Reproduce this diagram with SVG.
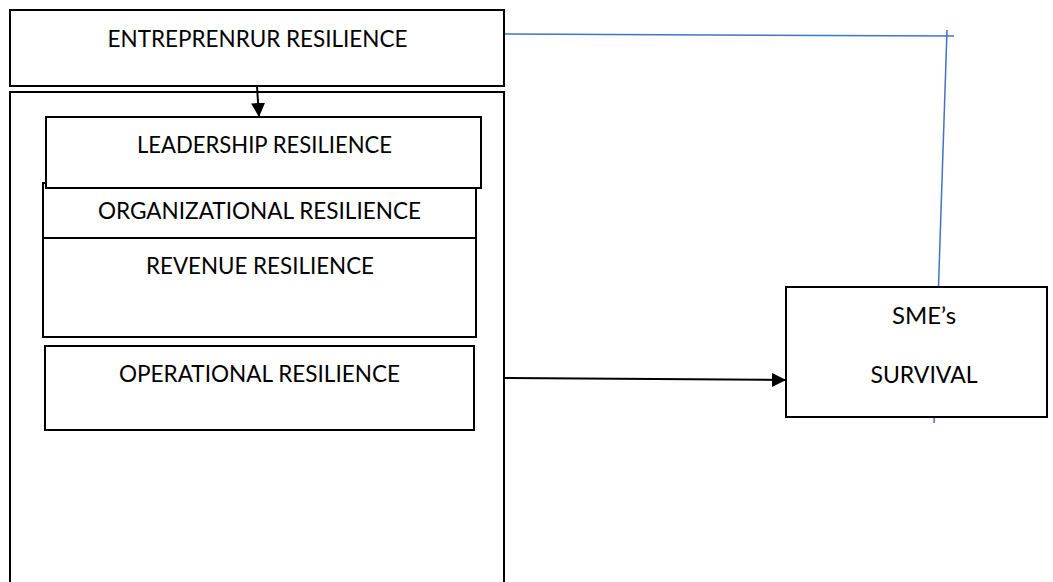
<svg xmlns="http://www.w3.org/2000/svg" width="1053" height="582" viewBox="0 0 1053 582">
<defs>
<style>
.box{fill:#fff;stroke:#000;stroke-width:2}
.frame{fill:none;stroke:#000;stroke-width:2}
.lbl{font-family:Lato,"Liberation Sans",sans-serif;font-size:24px;fill:#000;text-anchor:middle}
.blk{stroke:#000;stroke-width:2;fill:none}
.blue{stroke:#4472C4;stroke-width:1.5;fill:none}
</style>
<marker id="ah" viewBox="0 0 10 10" refX="10" refY="5" markerWidth="7" markerHeight="7" markerUnits="strokeWidth" orient="auto">
<path d="M0,0 L10,5 L0,10 Z" fill="#000"/>
</marker>
</defs>
<rect x="0" y="0" width="1053" height="582" fill="#fff"/>
<g id="connectors">
<path class="blue" d="M505,34 L954,36"/>
<path class="blue" d="M947,30 L934,423"/>
<path class="blk" d="M257,86 L259,117" marker-end="url(#ah)"/>
<path class="blk" d="M504,378 L786,380" marker-end="url(#ah)"/>
</g>
<g id="container">
<rect class="frame" x="10" y="92" width="494" height="500"/>
</g>
<g id="entrepreneur">
<rect class="box" x="10" y="10" width="494" height="76"/>
<text class="lbl" x="257.5" y="47" textLength="300" lengthAdjust="spacingAndGlyphs">ENTREPRENRUR RESILIENCE</text>
</g>
<g id="organizational">
<rect class="box" x="43" y="183" width="433" height="95"/>
<text class="lbl" x="259.5" y="219" textLength="323" lengthAdjust="spacingAndGlyphs">ORGANIZATIONAL RESILIENCE</text>
</g>
<g id="revenue">
<rect class="box" x="43" y="238" width="433" height="99"/>
<text class="lbl" x="260" y="274" textLength="228" lengthAdjust="spacingAndGlyphs">REVENUE RESILIENCE</text>
</g>
<g id="leadership">
<rect class="box" x="46" y="117" width="435" height="71"/>
<text class="lbl" x="264.5" y="153" textLength="255" lengthAdjust="spacingAndGlyphs">LEADERSHIP RESILIENCE</text>
</g>
<g id="operational">
<rect class="box" x="45" y="346" width="429" height="84"/>
<text class="lbl" x="259.5" y="382" textLength="281" lengthAdjust="spacingAndGlyphs">OPERATIONAL RESILIENCE</text>
</g>
<g id="sme">
<rect class="box" x="786" y="287" width="261" height="130"/>
<text class="lbl" x="924" y="324" textLength="64" lengthAdjust="spacingAndGlyphs">SME’s</text>
<text class="lbl" x="924" y="383" textLength="107" lengthAdjust="spacingAndGlyphs">SURVIVAL</text>
</g>
</svg>
